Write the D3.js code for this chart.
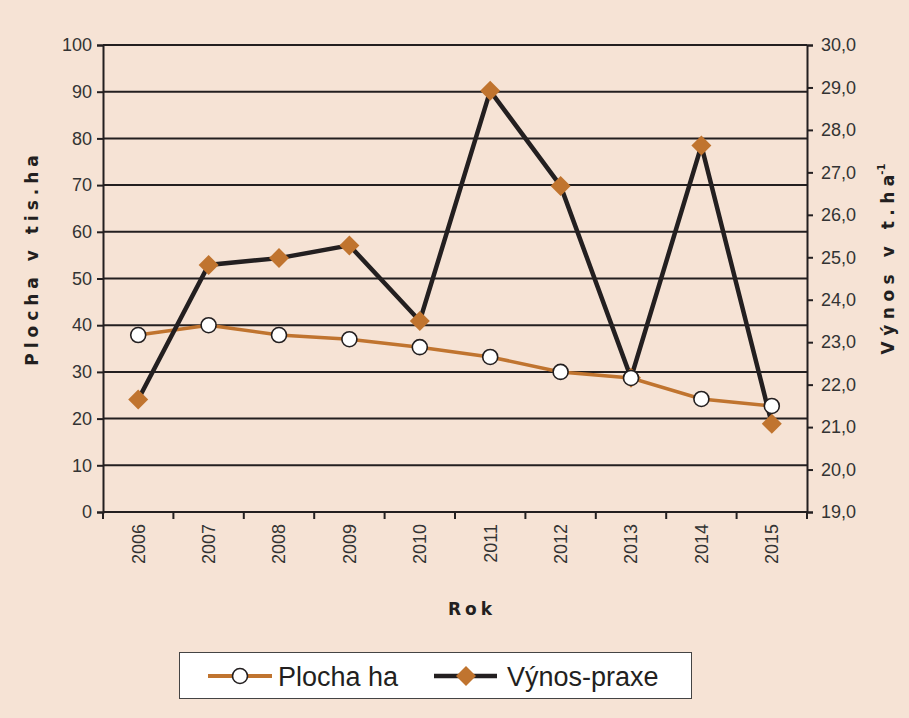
<!DOCTYPE html>
<html><head><meta charset="utf-8">
<script src="https://cdn.jsdelivr.net/npm/d3@7"></script>
<style>html,body{margin:0;padding:0;background:#f6e3d5;}svg{display:block;}</style>
</head><body>
<script>
const years = ["2006","2007","2008","2009","2010","2011","2012","2013","2014","2015"];
const plocha = [37.9, 40.0, 37.9, 37.0, 35.3, 33.2, 30.0, 28.7, 24.2, 22.7];
const vynos = [21.65, 24.82, 24.98, 25.28, 23.5, 28.92, 26.68, 22.16, 27.63, 21.08];
const leftTicks = [0,10,20,30,40,50,60,70,80,90,100];
const rightTicks = [19,20,21,22,23,24,25,26,27,28,29,30];

const W = 909, H = 718;
const m = {l:103, r:807, t:45, b:512};
const svg = d3.select("body").append("svg").attr("width", W).attr("height", H);
svg.append("rect").attr("width", W).attr("height", H).attr("fill", "#f6e3d5");

const x = d3.scaleBand().domain(years).range([m.l, m.r]);
const yL = d3.scaleLinear().domain([0,100]).range([m.b, m.t]);
const yR = d3.scaleLinear().domain([19,30]).range([m.b, m.t]);

const dark = "#231f20", orange = "#c0742f", txt = "#333";
const fontF = "'Liberation Sans', Arial, sans-serif";

// gridlines
svg.append("g").selectAll("line").data(leftTicks.filter(d=>d>0)).join("line")
  .attr("x1", m.l).attr("x2", m.r).attr("y1", d=>yL(d)).attr("y2", d=>yL(d))
  .attr("stroke", dark).attr("stroke-width", 2);

// left axis
const gl = svg.append("g").attr("transform", `translate(${m.l},0)`)
  .call(d3.axisLeft(yL).tickValues(leftTicks).tickSize(6).tickPadding(5).tickFormat(d3.format("d")));
// right axis
const gr = svg.append("g").attr("transform", `translate(${m.r},0)`)
  .call(d3.axisRight(yR).tickValues(rightTicks).tickSize(6).tickPadding(8).tickFormat(d=>d.toFixed(1).replace(".", ",")));
// bottom axis
const gb = svg.append("g").attr("transform", `translate(0,${m.b})`)
  .call(d3.axisBottom(x).tickSize(0).tickPadding(0));
[gl, gr, gb].forEach(g => {
  g.select(".domain").attr("stroke", dark).attr("stroke-width", 2);
  g.selectAll(".tick line").attr("stroke", dark).attr("stroke-width", 2);
  g.selectAll("text").attr("fill", txt).attr("font-family", fontF).attr("font-size", 18);
});
gb.select(".domain").attr("d", `M${m.l},0H${m.r}`);
gb.selectAll(".tick text").attr("transform", "rotate(-90)").attr("text-anchor", "end")
  .attr("x", -12).attr("y", 0).attr("dy", "0.35em");
// band boundary ticks
const bounds = years.map(d => x(d)).concat([m.r]);
svg.append("g").selectAll("line").data(bounds).join("line")
  .attr("x1", d=>d).attr("x2", d=>d).attr("y1", m.b).attr("y2", m.b+7)
  .attr("stroke", dark).attr("stroke-width", 2);

const cx = d => x(d) + x.bandwidth()/2;

// Plocha line
svg.append("path").datum(plocha)
  .attr("d", d3.line().x((d,i)=>cx(years[i])).y(d=>yL(d)))
  .attr("fill", "none").attr("stroke", orange).attr("stroke-width", 3.5);
// Vynos line
svg.append("path").datum(vynos)
  .attr("d", d3.line().x((d,i)=>cx(years[i])).y(d=>yR(d)))
  .attr("fill", "none").attr("stroke", dark).attr("stroke-width", 4.5);
// diamonds
const diamond = d3.symbol().type(d3.symbolSquare).size(200);
svg.append("g").selectAll("path").data(vynos).join("path")
  .attr("d", diamond)
  .attr("transform", (d,i)=>`translate(${cx(years[i])},${yR(d)}) rotate(45)`)
  .attr("fill", orange);
// circles
svg.append("g").selectAll("circle").data(plocha).join("circle")
  .attr("cx", (d,i)=>cx(years[i])).attr("cy", d=>yL(d)).attr("r", 7.5)
  .attr("fill", "#fff").attr("stroke", dark).attr("stroke-width", 1.6);

// axis titles
svg.append("text").attr("transform", `translate(38,258) rotate(-90)`)
  .attr("text-anchor", "middle").attr("font-family", "'DejaVu Sans', Arial, sans-serif")
  .attr("font-weight", "bold").attr("font-size", 17).attr("letter-spacing", 5).attr("fill", dark)
  .text("Plocha v tis.ha");
const rt = svg.append("text").attr("transform", `translate(894,259) rotate(-90)`)
  .attr("text-anchor", "middle").attr("font-family", "'DejaVu Sans', Arial, sans-serif")
  .attr("font-weight", "bold").attr("font-size", 17).attr("letter-spacing", 5.5).attr("fill", dark);
rt.append("tspan").text("Výnos v t.h");
rt.append("tspan").attr("letter-spacing", 0).text("a");
rt.append("tspan").attr("font-size", 10).attr("dy", -9).attr("letter-spacing", 0).text("-1");
svg.append("text").attr("x", 472).attr("y", 615).attr("text-anchor", "middle")
  .attr("font-family", "'DejaVu Sans', Arial, sans-serif").attr("font-weight", "bold")
  .attr("font-size", 17).attr("letter-spacing", 4).attr("fill", dark).text("Rok");

// legend
const lg = svg.append("g");
lg.append("rect").attr("x", 179.5).attr("y", 652.5).attr("width", 512).attr("height", 46)
  .attr("fill", "#fff").attr("stroke", "#444").attr("stroke-width", 1);
lg.append("line").attr("x1", 208).attr("x2", 272).attr("y1", 676).attr("y2", 676)
  .attr("stroke", orange).attr("stroke-width", 4);
lg.append("circle").attr("cx", 240).attr("cy", 676).attr("r", 7.5)
  .attr("fill", "#fff").attr("stroke", dark).attr("stroke-width", 1.6);
lg.append("text").attr("x", 278).attr("y", 686).attr("font-family", fontF).attr("font-size", 27)
  .attr("fill", dark).text("Plocha ha");
lg.append("line").attr("x1", 434).attr("x2", 497).attr("y1", 676).attr("y2", 676)
  .attr("stroke", dark).attr("stroke-width", 4.5);
lg.append("path").attr("d", diamond).attr("transform", "translate(466,676) rotate(45)").attr("fill", orange);
lg.append("text").attr("x", 507).attr("y", 686).attr("font-family", fontF).attr("font-size", 27)
  .attr("fill", dark).text("Výnos-praxe");
</script>
</body></html>
